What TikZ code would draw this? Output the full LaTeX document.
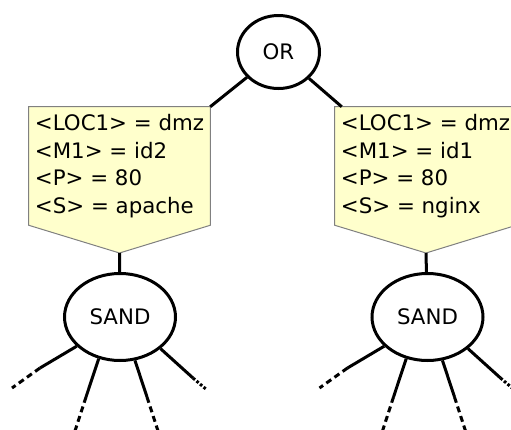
\documentclass[tikz,border=0pt]{standalone}
\usepackage{fontspec}
\setmainfont{DejaVu Sans}
\usetikzlibrary{shapes.geometric}
\usetikzlibrary{backgrounds}
\definecolor{condfill}{RGB}{255,255,204}
\definecolor{condline}{RGB}{128,128,128}

\begin{document}
\begin{tikzpicture}[x=0.75pt, y=-0.75pt, font=\fontsize{16}{20.8}\selectfont,
    gate/.style={draw, ellipse, line width=2.25pt, inner sep=0pt},
    cond/.style={align=left, minimum width=135.75pt, minimum height=88.5pt, inner sep=0pt},
    edge/.style={line width=2.25pt},
    more/.style={edge, dash pattern=on 4.5pt off 3pt},
    few/.style={edge, dash pattern=on 2pt off 1.5pt}]
    \useasboundingbox (0, 0) rectangle (511, 429);

    \node [gate, minimum width=61.5pt, minimum height=54.75pt] (or) at (278.5, 52) {OR};

    % conditions
    \node [cond] (condL) at (119.5, 166) {<LOC1> = dmz\\<M1> = id2\\<P> = 80\\<S> = apache};
    \node [cond] (condR) at (425.5, 166) {<LOC1> = dmz\\<M1> = id1\\<P> = 80\\<S> = nginx};
    \coordinate (tipL) at (119.5, 253);
    \coordinate (tipR) at (426, 253);
    \begin{scope}[on background layer]
      \draw [fill=condfill, draw=condline, line width=0.75pt] (condL.south west) -- (condL.north west) -- (condL.north east) -- (condL.south east) -- (tipL) -- cycle;
      \draw [fill=condfill, draw=condline, line width=0.75pt] (condR.south west) -- (condR.north west) -- (condR.north east) -- (condR.south east) -- (tipR) -- cycle;
    \end{scope}

    \draw [edge] (or) -- (condL.north east);
    \draw [edge] (or) -- ([xshift=5.25pt]condR.north west);

    \node [gate, minimum width=83.25pt, minimum height=65.25pt] (sandL) at (120, 317) {SAND};
    \node [gate, minimum width=83.25pt, minimum height=65.25pt] (sandR) at (427.5, 317) {SAND};
    \draw [edge] (tipL) -- (sandL);
    \draw [edge] (tipR) -- (sandR);

    % children of the left SAND
    \coordinate (l1m) at (40, 368);   \coordinate (l1e) at (12, 388);
    \coordinate (l2m) at (86, 397);   \coordinate (l2e) at (75, 431);
    \coordinate (l3m) at (147, 397);  \coordinate (l3e) at (158, 431);
    \coordinate (l4m) at (193, 378);  \coordinate (l4e) at (207, 390);
    \draw [edge] (sandL.214) -- (l1m);
    \draw [more] (l1m) -- (l1e);
    \draw [edge] (sandL.243) -- (l2m);
    \draw [more] (l2m) -- (l2e);
    \draw [edge] (sandL.289) -- (l3m);
    \draw [more] (l3m) -- (l3e);
    \draw [edge] (sandL.322) -- (l4m);
    \draw [few] (l4m) -- (l4e);

    % children of the right SAND
    \coordinate (r1m) at (347.5, 368);  \coordinate (r1e) at (319.5, 388);
    \coordinate (r2m) at (393.5, 397);  \coordinate (r2e) at (382.5, 431);
    \coordinate (r3m) at (454.5, 397);  \coordinate (r3e) at (465.5, 431);
    \coordinate (r4m) at (500.5, 378);  \coordinate (r4e) at (514.5, 390);
    \draw [edge] (sandR.214) -- (r1m);
    \draw [more] (r1m) -- (r1e);
    \draw [edge] (sandR.243) -- (r2m);
    \draw [more] (r2m) -- (r2e);
    \draw [edge] (sandR.289) -- (r3m);
    \draw [more] (r3m) -- (r3e);
    \draw [edge] (sandR.322) -- (r4m);
    \draw [few] (r4m) -- (r4e);
  \end{tikzpicture}
\end{document}
